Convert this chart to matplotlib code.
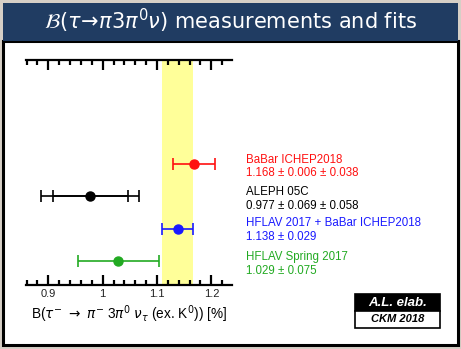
import numpy as np
import matplotlib
matplotlib.use("Agg")
import matplotlib.pyplot as plt
from matplotlib.patches import Rectangle
from matplotlib.ticker import MultipleLocator, FormatStrFormatter

# measurements, top to bottom
labels = ['BaBar ICHEP2018', 'ALEPH 05C', 'HFLAV 2017 + BaBar ICHEP2018', 'HFLAV Spring 2017']
values = [1.168, 0.977, 1.138, 1.029]
stat_err = [0.006, 0.069, 0.029, 0.075]
syst_err = [0.038, 0.058, 0.0, 0.0]
value_text = ['1.168 \u00b1 0.006 \u00b1 0.038', '0.977 \u00b1 0.069 \u00b1 0.058',
              '1.138 \u00b1 0.029', '1.029 \u00b1 0.075']
colors = ['#ff1010', '#000000', '#1a1aff', '#22aa22']

# the fit band (HFLAV 2017 + BaBar)
fit_value = 1.138
fit_err = 0.029

W, H = 461, 349
plt.rcParams['font.family'] = ['Liberation Sans', 'DejaVu Sans']
fig = plt.figure(figsize=(W / 100, H / 100), dpi=100)
fig.patch.set_facecolor('#d6cfc6')


def px(x, y, w, h):
    # pixel box (top-left origin) -> figure fraction
    return (x / W, 1 - (y + h) / H), w / W, h / H


def frect(x, y, w, h, z=-1, **kw):
    xy, fw, fh = px(x, y, w, h)
    fig.patches.append(Rectangle(xy, fw, fh, transform=fig.transFigure, zorder=z, **kw))


# slide frame
frect(3, 41, 455, 304, facecolor='white', edgecolor='black', linewidth=2.2)
frect(3, 3, 455, 38, facecolor='#203c62', edgecolor='none')
fig.text(0.5, 1 - 21 / H, r'$\mathcal{B}(\tau\!\rightarrow\!\pi 3\pi^0\nu)$ measurements and fits',
         color='white', fontsize=15, ha='center', va='center', family='DejaVu Sans')

# plot area
(ax_l, ax_b), ax_w, ax_h = px(26, 59.5, 206, 225.5)
ax = fig.add_axes([ax_l, ax_b, ax_w, ax_h])
ax.set_zorder(2)
ax.set_xlim(0.859, 1.238)
ax.set_ylim(0.24, 7.27)

ax.axvspan(fit_value - fit_err, fit_value + fit_err, color='#ffff99', zorder=0, lw=0)

ypos = np.arange(len(values), 0, -1)
for i in range(len(values)):
    tot = np.hypot(stat_err[i], syst_err[i])
    ax.errorbar(values[i], ypos[i], xerr=tot, fmt='o', color=colors[i], ms=6.5,
                elinewidth=1.2, capsize=4.5, capthick=1.2, zorder=3)
    if syst_err[i] > 0 and stat_err[i] > 0.02:
        ax.errorbar(values[i], ypos[i], xerr=stat_err[i], fmt='none', ecolor=colors[i],
                    elinewidth=1.2, capsize=4.5, capthick=1.2, zorder=3)

for s in ['left', 'right']:
    ax.spines[s].set_visible(False)
for s in ['top', 'bottom']:
    ax.spines[s].set_linewidth(1.6)
ax.set_yticks([])
ax.xaxis.set_major_locator(MultipleLocator(0.1))
ax.xaxis.set_minor_locator(MultipleLocator(0.02))
ax.xaxis.set_major_formatter(FormatStrFormatter('%g'))
ax.tick_params(axis='x', which='both', direction='in', top=True, bottom=True, width=1.6,
               labelsize=8, labelcolor='#222222', pad=3)
ax.tick_params(axis='x', which='major', length=7)
ax.tick_params(axis='x', which='minor', length=3.5)
ax.set_xlabel(r'B($\tau^{-}$ $\rightarrow$ $\pi^{-}$ 3$\pi^{0}$ $\nu_{\tau}$ (ex. K$^{0}$)) [%]',
              fontsize=9.8, labelpad=3)
ax.set_facecolor('none')

# labels to the right
label_y = [160, 192, 223, 257]
for i in range(len(labels)):
    fig.text(246 / W, 1 - label_y[i] / H, labels[i], color=colors[i], fontsize=8.3, va='center')
    fig.text(246 / W, 1 - (label_y[i] + 13.5) / H, value_text[i], color=colors[i],
             fontsize=8.3, va='center')

# author box
frect(355, 294, 85, 17, z=1, facecolor='black', edgecolor='black', linewidth=1.2)
frect(355, 311, 85, 17, z=1, facecolor='white', edgecolor='black', linewidth=1.2)
fig.text(397.5 / W, 1 - 302.5 / H, 'A.L. elab.', color='white', fontsize=9.5,
         fontweight='bold', fontstyle='italic', ha='center', va='center')
fig.text(397.5 / W, 1 - 319.5 / H, 'CKM 2018', color='black', fontsize=8,
         fontweight='bold', fontstyle='italic', ha='center', va='center')

fig.savefig('out.png', dpi=100, facecolor=fig.get_facecolor())
